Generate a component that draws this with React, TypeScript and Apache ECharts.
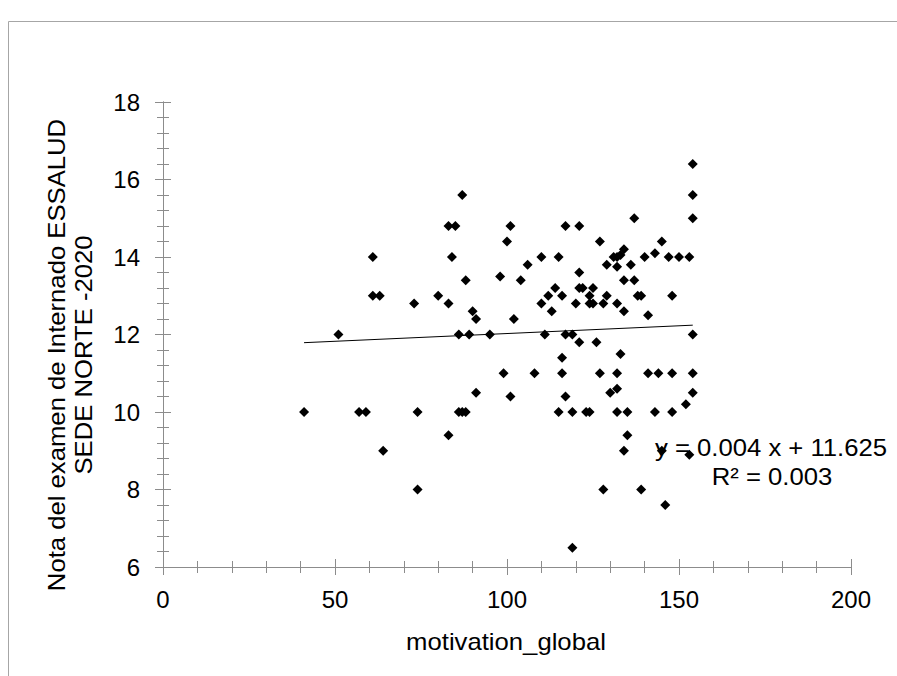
import React, { useEffect, useRef } from "react";
import * as echarts from "echarts";

const motivation = [41, 51, 57, 59, 61, 61, 63, 64, 73, 74, 74, 80, 83, 85, 83, 83, 84, 86, 86, 87, 87, 88, 88, 89, 90, 91, 91, 95, 98, 99, 100, 101, 101, 102, 104, 106, 108, 110, 110, 111, 112, 113, 114, 115, 115, 116, 116, 116, 117, 117, 117, 119, 119, 119, 120, 121, 121, 121, 121, 122, 123, 124, 124, 124, 125, 125, 126, 127, 127, 128, 128, 129, 129, 130, 131, 132, 132, 132, 132, 132, 132, 133, 133, 134, 134, 134, 134, 135, 135, 136, 137, 137, 138, 139, 139, 140, 141, 141, 143, 143, 144, 145, 145, 146, 147, 148, 148, 148, 150, 152, 153, 153, 154, 154, 154, 154, 154, 154];
const nota = [10, 12, 10, 10, 14, 13, 13, 9, 12.8, 10, 8, 13, 14.8, 14.8, 12.8, 9.4, 14, 12, 10, 15.6, 10, 10, 13.4, 12, 12.6, 12.4, 10.5, 12, 13.5, 11, 14.4, 14.8, 10.4, 12.4, 13.4, 13.8, 11, 14, 12.8, 12, 13, 12.6, 13.2, 14, 10, 13, 11.4, 11, 14.8, 12, 10.4, 12, 10, 6.5, 12.8, 14.8, 13.6, 13.2, 11.8, 13.2, 10, 10, 12.8, 13, 13.2, 12.8, 11.8, 14.4, 11, 12.8, 8, 13.8, 13, 10.5, 14, 14, 13.75, 12.8, 11, 10.6, 10, 14.05, 11.5, 14.2, 13.4, 12.6, 9, 10, 9.4, 13.8, 13.4, 15, 13, 13, 8, 14, 12.5, 11, 14.1, 10, 11, 14.4, 9, 7.6, 14, 13, 11, 10, 14, 10.2, 14, 8.9, 16.4, 15.6, 15, 12, 11, 10.5];

const slope = 0.004;
const intercept = 11.625;
const r2 = 0.003;
const xTitle = "motivation_global";
const yTitleLines = ["Nota del examen de Internado ESSALUD", "SEDE NORTE -2020"];

const FONT = "'Liberation Sans', Arial, sans-serif";
const AXIS_COLOR = "#8c8c8c";
const STRETCH = 1.07;

export default function App() {
  const ref = useRef<HTMLDivElement>(null);
  useEffect(() => {
    document.body.style.margin = "0";
    const chart = echarts.init(ref.current!, null, { renderer: "svg" });
    const pts = motivation.map((x, i) => [x, nota[i]]);
    const xMin = Math.min(...motivation);
    const xMax = Math.max(...motivation);
    const trend = [
      [xMin, slope * xMin + intercept],
      [xMax, slope * xMax + intercept],
    ];
    const axisCommon = {
      axisLine: { show: true, lineStyle: { color: AXIS_COLOR, width: 1 } },
      splitLine: { show: false },
    };
    chart.setOption({
      animation: false,
      backgroundColor: "#ffffff",
      textStyle: { fontFamily: FONT },
      grid: { left: 163, right: 46, top: 102, bottom: 109, containLabel: false },
      xAxis: [
        {
          type: "value", min: 0, max: 200, interval: 50, position: "bottom",
          ...axisCommon,
          axisTick: { show: true, inside: false, length: 8, lineStyle: { color: AXIS_COLOR } },
          minorTick: { show: true, splitNumber: 5, length: 6, lineStyle: { color: AXIS_COLOR } },
          axisLabel: { color: "#000", fontSize: 24, margin: 20, fontFamily: FONT },
        },
        {
          type: "value", min: 0, max: 200, interval: 50, position: "bottom",
          ...axisCommon,
          axisTick: { show: true, inside: true, length: 8, lineStyle: { color: AXIS_COLOR } },
          minorTick: { show: true, splitNumber: 5, length: 6, lineStyle: { color: AXIS_COLOR } },
          axisLabel: { show: false },
        },
      ],
      yAxis: [
        {
          type: "value", min: 6, max: 18, interval: 2, position: "left",
          ...axisCommon,
          axisTick: { show: true, inside: false, length: 8, lineStyle: { color: AXIS_COLOR } },
          minorTick: { show: true, splitNumber: 5, length: 6, lineStyle: { color: AXIS_COLOR } },
          axisLabel: { color: "#000", fontSize: 24, margin: 23, fontFamily: FONT },
        },
        {
          type: "value", min: 6, max: 18, interval: 2, position: "left",
          ...axisCommon,
          axisTick: { show: true, inside: true, length: 8, lineStyle: { color: AXIS_COLOR } },
          minorTick: { show: true, splitNumber: 5, length: 6, lineStyle: { color: AXIS_COLOR } },
          axisLabel: { show: false },
        },
      ],
      graphic: [
        {
          type: "rect", silent: true, z: -10,
          shape: { x: 8.5, y: 21.5, width: 1000, height: 1000 },
          style: { fill: "none", stroke: "#a6a6a6", lineWidth: 1 },
        },
        {
          type: "text", x: 506, y: 642, scaleX: STRETCH,
          style: { text: xTitle, font: `24px ${FONT}`, fill: "#000", textAlign: "center", textVerticalAlign: "middle" },
        },
        {
          type: "text", x: 70, y: 355, rotation: Math.PI / 2, scaleX: STRETCH,
          style: {
            text: yTitleLines.join("\n"), font: `24px ${FONT}`, fill: "#000",
            textAlign: "center", textVerticalAlign: "middle", lineHeight: 27,
          },
        },
        {
          type: "text", x: 771, y: 448, scaleX: STRETCH,
          style: { text: `y = ${slope} x + ${intercept}`, font: `24px ${FONT}`, fill: "#000", textAlign: "center", textVerticalAlign: "middle" },
        },
        {
          type: "text", x: 772, y: 477, scaleX: STRETCH,
          style: { text: `R² = ${r2}`, font: `24px ${FONT}`, fill: "#000", textAlign: "center", textVerticalAlign: "middle" },
        },
      ],
      series: [
        {
          type: "scatter", xAxisIndex: 0, yAxisIndex: 0, data: pts,
          symbol: "diamond", symbolSize: [10, 10],
          itemStyle: { color: "#000", opacity: 1 },
        },
        {
          type: "line", xAxisIndex: 0, yAxisIndex: 0, data: trend,
          symbol: "none", lineStyle: { color: "#000", width: 1 }, z: 1,
        },
      ],
    });
    return () => chart.dispose();
  }, []);
  return <div ref={ref} style={{ position: "fixed", left: 0, top: 0, width: 897, height: 676 }} />;
}
